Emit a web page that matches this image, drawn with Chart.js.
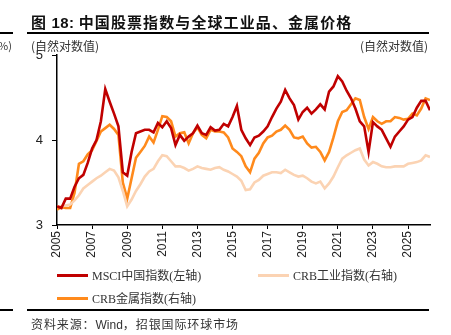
<!DOCTYPE html>
<html>
<head>
<meta charset="utf-8">
<script src="https://cdn.jsdelivr.net/npm/chart.js@4.4.1/dist/chart.umd.min.js"></script>
<style>
  html, body { margin: 0; padding: 0; background: #fff; }
  body { width: 451px; height: 335px; position: relative; overflow: hidden;
         font-family: "Noto Sans CJK SC", sans-serif; color: #222; }
  #chart { position: absolute; left: 0; top: 0; }
  .abs { position: absolute; white-space: nowrap; }
  .title { left: 31px; top: 11px; font-size: 15px; font-weight: 700; color: #111; letter-spacing: 1.1px; }
  .title b { font-family: "Liberation Sans", sans-serif; letter-spacing: 0.3px; }
  .rule { position: absolute; height: 2px; background: #000; }
  .unit { top: 37px; font-size: 12px; color: #333; font-family: "Noto Sans CJK SC", serif; }
  .legend-item { position: absolute; display: flex; align-items: center; height: 16px;
                 font-family: "Liberation Serif", "Noto Sans CJK SC", serif; font-size: 12px; color: #333; }
  .legend-line { width: 31px; height: 3px; margin-right: 4px; }
  .source { left: 31px; top: 315px; font-size: 12px; color: #333; letter-spacing: 0.9px; }
  .source span { font-family: "Liberation Sans", sans-serif; letter-spacing: 0; }
</style>
</head>
<body>
<canvas id="chart" width="451" height="335"></canvas>

<div class="abs title">图 <b>18:</b> 中国股票指数与全球工业品、金属价格</div>
<div class="rule" style="left:0;width:13px;top:32px;"></div>
<div class="rule" style="left:27px;width:402px;top:32px;"></div>
<div class="abs unit" style="left:-2px;font-size:11px;">%)</div>
<div class="abs unit" style="left:31px;">(自然对数值)</div>
<div class="abs unit" style="left:360px;">(自然对数值)</div>
<div id="legend"></div>
<div class="rule" style="left:0;width:13px;top:309px;"></div>
<div class="rule" style="left:27px;width:402px;top:309px;"></div>
<div class="abs source">资料来源：<span>Wind</span>，招银国际环球市场</div>

<script>
'use strict';

// quarterly observations, starting Q1 2005
const START_YEAR = 2005;
const STEP = 0.25;

const TICK_YEARS = [2005, 2007, 2009, 2011, 2013, 2015, 2017, 2019, 2021, 2023, 2025];
const Y_TICKS = [3, 4, 5];

const SERIES_LABELS = ['MSCI中国指数(左轴)', 'CRB工业指数(右轴)', 'CRB金属指数(右轴)'];

const msciChina = [
    3.22, 3.20, 3.31, 3.31, 3.45, 3.55, 3.59, 3.73, 3.90, 4.00,
    4.22, 4.60, 4.45, 4.31, 4.16, 3.62, 3.58, 3.86, 4.08, 4.10,
    4.12, 4.12, 4.09, 4.20, 4.15, 4.22, 4.14, 3.94, 4.06, 3.99,
    4.04, 4.08, 4.17, 4.08, 4.06, 4.15, 4.11, 4.12, 4.19, 4.16,
    4.27, 4.40, 4.12, 4.02, 3.94, 4.03, 4.05, 4.10, 4.16, 4.27,
    4.37, 4.45, 4.59, 4.49, 4.41, 4.24, 4.33, 4.38, 4.31, 4.36,
    4.42, 4.36, 4.57, 4.63, 4.75, 4.69, 4.58, 4.49, 4.37, 4.22,
    4.16, 3.86, 4.21, 4.16, 4.12, 4.02, 3.92, 4.04, 4.10, 4.16,
    4.24, 4.27, 4.38, 4.46, 4.46, 4.35
];

const crbIndustrial = [
    3.22, 3.22, 3.23, 3.24, 3.29, 3.35, 3.43, 3.47, 3.51, 3.55,
    3.58, 3.62, 3.66, 3.64, 3.56, 3.40, 3.22, 3.30, 3.40, 3.48,
    3.57, 3.63, 3.66, 3.75, 3.82, 3.81, 3.75, 3.69, 3.69, 3.67,
    3.64, 3.66, 3.69, 3.67, 3.66, 3.65, 3.67, 3.68, 3.65, 3.63,
    3.60, 3.57, 3.52, 3.41, 3.42, 3.50, 3.53, 3.58, 3.60, 3.62,
    3.62, 3.61, 3.65, 3.62, 3.59, 3.57, 3.58, 3.55, 3.51, 3.49,
    3.51, 3.43, 3.49, 3.57, 3.68, 3.78, 3.82, 3.85, 3.88, 3.90,
    3.77, 3.70, 3.74, 3.72, 3.69, 3.68, 3.68, 3.69, 3.69, 3.69,
    3.72, 3.73, 3.74, 3.76, 3.82, 3.80
];

const crbMetals = [
    3.18, 3.21, 3.20, 3.20, 3.38, 3.72, 3.75, 3.83, 3.88, 3.99,
    4.10, 4.14, 4.18, 4.13, 4.06, 3.50, 3.31, 3.55, 3.79, 3.86,
    3.93, 4.04, 3.97, 4.12, 4.28, 4.27, 4.22, 4.04, 4.08, 4.09,
    3.96, 4.08, 4.15, 4.06, 4.02, 4.12, 4.10, 4.10, 4.09, 4.03,
    3.90, 3.86, 3.81, 3.69, 3.62, 3.78, 3.85, 3.96, 4.03, 4.05,
    4.10, 4.12, 4.17, 4.12, 4.03, 4.02, 4.04, 3.96, 3.91, 3.92,
    3.86, 3.76, 3.86, 4.03, 4.22, 4.33, 4.35, 4.42, 4.49, 4.47,
    4.27, 4.13, 4.27, 4.22, 4.19, 4.22, 4.22, 4.27, 4.26, 4.24,
    4.25, 4.31, 4.29, 4.37, 4.49, 4.47
];

const COLORS = ['#C00000', '#FBD3B3', '#FF8A1C'];

function toPoints(values) {
    return values.map((v, i) => ({ x: START_YEAR + i * STEP, y: v }));
}

const datasets = [msciChina, crbIndustrial, crbMetals].map((vals, i) => ({
    label: SERIES_LABELS[i],
    data: toPoints(vals),
    borderColor: COLORS[i],
    backgroundColor: COLORS[i],
    borderWidth: 2.6,
    pointRadius: 0,
    tension: 0,
    fill: false
}));

const lastX = START_YEAR + (msciChina.length - 1) * STEP;

const chart = new Chart(document.getElementById('chart'), {
    type: 'line',
    data: { datasets },
    options: {
        responsive: false,
        animation: false,
        devicePixelRatio: 1,
        layout: { padding: { left: 0, top: 55, right: 21, bottom: 0 } },
        plugins: { legend: { display: false }, tooltip: { enabled: false } },
        scales: {
            x: {
                type: 'linear',
                min: START_YEAR,
                max: lastX,
                afterFit: s => { s.height = 110; },
                afterBuildTicks: s => { s.ticks = TICK_YEARS.map(v => ({ value: v })); },
                grid: { display: true, drawOnChartArea: false, drawTicks: true, tickLength: 4, color: '#000' },
                border: { display: true, color: '#000', width: 1.5 },
                ticks: {
                    minRotation: 90, maxRotation: 90, padding: 2,
                    autoSkip: false,
                    font: { family: 'Liberation Sans', size: 12 },
                    color: '#222',
                    callback: v => String(v)
                }
            },
            y: {
                min: 3, max: 5,
                afterFit: s => { s.width = 57; },
                afterBuildTicks: s => { s.ticks = Y_TICKS.map(v => ({ value: v })); },
                grid: { display: true, drawOnChartArea: false, drawTicks: true, tickLength: 5, color: '#000' },
                border: { display: true, color: '#000', width: 1.5 },
                ticks: {
                    padding: 9,
                    font: { family: 'Liberation Sans', size: 13 },
                    color: '#222'
                }
            }
        }
    }
});

// legend, laid out as in the report: two columns
const LEGEND_SLOTS = [[57, 267], [258, 267], [57, 290]];
const legend = document.getElementById('legend');
legend.innerHTML = chart.data.datasets.map((d, i) => `
  <div class="legend-item" style="left:${LEGEND_SLOTS[i][0]}px;top:${LEGEND_SLOTS[i][1]}px;">
    <span class="legend-line" style="background:${d.borderColor}"></span>
    <span>${d.label}</span>
  </div>`).join('');
</script>
</body>
</html>
